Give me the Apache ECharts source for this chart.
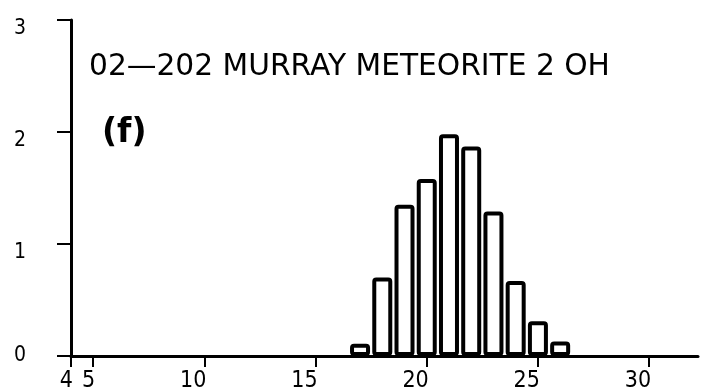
<!DOCTYPE html>
<html>
<head>
<meta charset="utf-8">
<script src="https://cdn.jsdelivr.net/npm/echarts@6/dist/echarts.min.js"></script>
<style>
  html, body { margin: 0; padding: 0; background: #fff; }
  #chart { width: 720px; height: 390px; }
</style>
</head>
<body>
<div id="chart"></div>
<script>
// Histogram bins (bin centre) and their heights
const binCentres = [17, 18, 19, 20, 21, 22, 23, 24, 25, 26];
const binHeights = [0.11, 0.70, 1.35, 1.58, 1.98, 1.87, 1.29, 0.67, 0.31, 0.13];

// Axis tick positions
const xTickValues = [4, 5, 10, 15, 20, 25, 30];
const yTickValues = [0, 1, 2, 3];

const titleText = '02\u2014202 MURRAY METEORITE 2 OH';
const panelText = '(f)';

const plotFont = "'Liberation Sans Narrow', 'DejaVu Sans Condensed', sans-serif";
const ink = '#000';

const chart = echarts.init(document.getElementById('chart'), null, { renderer: 'canvas' });

chart.setOption({
  backgroundColor: '#fff',
  animation: false,
  grid: {
    left: 71, right: 22, top: 20, bottom: 34,
    containLabel: false,
    outerBoundsMode: 'none'
  },
  xAxis: {
    type: 'value',
    min: 4,
    max: 32.2,
    splitLine: { show: false },
    axisLine: { show: true, lineStyle: { color: ink, width: 3 } },
    axisTick: {
      show: true,
      customValues: xTickValues,
      length: 11,
      lineStyle: { color: ink, width: 2 }
    },
    axisLabel: {
      show: true,
      customValues: xTickValues,
      color: ink,
      fontFamily: plotFont,
      fontSize: 23,
      align: 'right',
      margin: 14,
      padding: [0, -2, 0, 0]
    }
  },
  yAxis: {
    type: 'value',
    min: 0,
    max: 3,
    interval: 1,
    splitLine: { show: false },
    axisLine: { show: true, lineStyle: { color: ink, width: 3 } },
    axisTick: {
      show: true,
      customValues: yTickValues,
      length: 14,
      lineStyle: { color: ink, width: 2 }
    },
    axisLabel: {
      show: true,
      customValues: yTickValues,
      color: ink,
      fontFamily: plotFont,
      fontSize: 21,
      margin: 45,
      verticalAlign: 'middle',
      formatter: function (v) {
        return v === 0 ? '{z|' + v + '}' : '{n|' + v + '}';
      },
      rich: {
        z: { fontFamily: plotFont, fontSize: 21, color: ink, padding: [0, 0, 0, 0] },
        n: { fontFamily: plotFont, fontSize: 21, color: ink, padding: [18, 0, 0, 0] }
      }
    }
  },
  graphic: [
    {
      type: 'text',
      x: 89,
      y: 67,
      style: {
        text: titleText,
        fill: ink,
        font: "29.7px 'DejaVu Sans', sans-serif",
        textVerticalAlign: 'middle'
      }
    },
    {
      type: 'text',
      x: 102,
      y: 133,
      style: {
        text: panelText,
        fill: ink,
        font: "bold 33px 'DejaVu Sans', sans-serif",
        textVerticalAlign: 'middle'
      }
    }
  ],
  series: [
    {
      type: 'bar',
      data: binCentres.map((c, i) => [c, binHeights[i]]),
      barWidth: 20,
      itemStyle: {
        color: '#fff',
        borderColor: ink,
        borderWidth: 4,
        borderRadius: 2
      }
    }
  ]
});
</script>
</body>
</html>
